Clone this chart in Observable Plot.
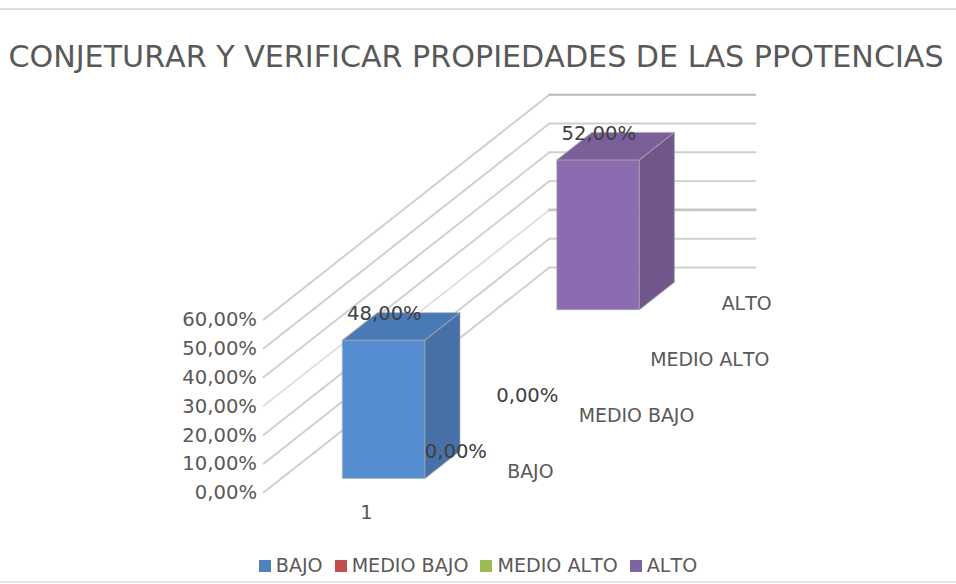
<!DOCTYPE html>
<html lang="es">
<head>
<meta charset="utf-8">
<script src="https://cdn.jsdelivr.net/npm/d3@7"></script>
<script src="https://cdn.jsdelivr.net/npm/@observablehq/plot@0.6"></script>
<style>
  html, body { margin: 0; padding: 0; background: #fff; }
  body { width: 956px; height: 584px; overflow: hidden; font-family: "DejaVu Sans", sans-serif; color: #595959; position: relative; font-kerning: none; }
  #chart svg text { font-kerning: none; }
  #title { position: absolute; top: 8px; left: 0; width: 956px; height: 80px; box-sizing: border-box; border-top: 2px solid #dedede; text-align: center; font-size: 30.15px; line-height: 32px; padding-top: 31px; padding-right: 4px; white-space: nowrap; }
  #chart { position: absolute; top: 90px; left: 0; }
  #chart svg { display: block; }
  #legend { position: absolute; top: 552px; left: 0; width: 956px; height: 31px; box-sizing: border-box; border-bottom: 2px solid #e4e4e4; display: flex; justify-content: center; align-items: flex-start; font-size: 19.1px; line-height: 28px; white-space: nowrap; }
  #legend span.item { display: inline-flex; align-items: center; margin: 0 6px; }
  #legend i { display: inline-block; width: 12px; height: 12px; margin-right: 5px; }
</style>
</head>
<body>
<div id="title"></div>
<div id="chart"></div>
<div id="legend"></div>
<script>
const chartTitle = "CONJETURAR Y VERIFICAR PROPIEDADES DE LAS PPOTENCIAS";
const seriesNames = ["BAJO", "MEDIO BAJO", "MEDIO ALTO", "ALTO"];
const seriesValues = [48, 0, 0, 52];
const categoryLabel = "1";
const gridLevels = [0, 10, 20, 30, 40, 50, 60];
const legendColors = ["#4F81BD", "#C0504D", "#9BBB59", "#8064A2"];
const frontColors = ["#558DD0", "#D05A56", "#A8CB62", "#8C6CB0"];
const topColors = ["#4A7AB6", "#B34F4B", "#91B055", "#7A5F9A"];
const sideColors = ["#4670A6", "#A34844", "#85A04E", "#6F578C"];

// Oblique projection: one series step back moves this much in category and value units.
const depthX = 0.347, depthY = 19.53;
const proj = (w, z, v) => ({ x: w + z * depthX, y: v + z * depthY });
const barLeft = 0.296, barRight = 0.697, barDepth = 0.49, barInset = 0.25;
const wallSplit = 1.5; // the floor depth where the side wall passes behind the first bar

const fmt = v => v.toFixed(2).replace(".", ",") + "%";

const gridRows = gridLevels.flatMap(v => [
  { level: v, part: "near", ...proj(0, 0, v) },
  { level: v, part: "near", ...proj(0, wallSplit, v) },
  { level: v, part: "far", ...proj(0, wallSplit, v) },
  { level: v, part: "far", ...proj(0, seriesNames.length, v) },
  { level: v, part: "back", ...proj(0, seriesNames.length, v) },
  { level: v, part: "back", ...proj(1, seriesNames.length, v) }
]);

const faces = seriesValues.flatMap((v, i) => {
  if (v <= 0) return [];
  const z0 = i + barInset, z1 = z0 + barDepth;
  const shape = (name, color, pts) => [...pts, pts[0]].map(p => ({ id: i + name, color, ...p }));
  return [
    shape("front", frontColors[i], [proj(barLeft, z0, 0), proj(barRight, z0, 0), proj(barRight, z0, v), proj(barLeft, z0, v)]),
    shape("top", topColors[i], [proj(barLeft, z0, v), proj(barRight, z0, v), proj(barRight, z1, v), proj(barLeft, z1, v)]),
    shape("side", sideColors[i], [proj(barRight, z0, 0), proj(barRight, z1, 0), proj(barRight, z1, v), proj(barRight, z0, v)])
  ].flat();
});

const valueRows = seriesValues.map((v, i) => ({ v, ...proj(0.5, i + barInset, v) }));
const seriesRows = seriesNames.map((name, i) => ({ name, ...proj(1, i + 0.5, 0) }));
const tickRows = gridLevels.map(v => ({ label: fmt(v), ...proj(0, 0, v) }));

const W = 956, H = 450;
// One category is 206px wide, one percent point 2.88px tall; the origin sits at (263, 402).
const xScale = { domain: [-263 / 206, (W - 263) / 206], range: [0, W] };
const yScale = { domain: [(402 - H) / 2.88, 402 / 2.88], range: [H, 0] };

const isLight = d => (d.level === 30 && d.part === "near") || (d.level === 20 && d.part === "far");
const gridStroke = d => isLight(d) ? "#e0e0e0"
  : d.part === "back" && d.level === 20 ? "#c6c6c6"
  : d.part === "back" && d.level === 60 ? "#b8b8b8"
  : "#cfcfcf";
const gridWidth = d => d.part === "back" && d.level === 20 ? 2.6 : 1.9;

const plot = Plot.plot({
  width: W, height: H,
  marginTop: 0, marginRight: 0, marginBottom: 0, marginLeft: 0,
  x: { ...xScale, axis: null },
  y: { ...yScale, axis: null },
  color: { type: "identity" },
  style: { fontFamily: "'DejaVu Sans', sans-serif", background: "transparent", overflow: "visible" },
  marks: [
    Plot.line(gridRows, { x: "x", y: "y", z: d => d.level + d.part, stroke: gridStroke, strokeWidth: gridWidth }),
    Plot.line(faces, { x: "x", y: "y", z: "id", fill: "color", stroke: "#a9a9a9", strokeOpacity: 0.55, strokeWidth: 1.2, curve: "linear" }),
    Plot.text(tickRows, { x: "x", y: "y", text: "label", textAnchor: "end", dx: -6.5, dy: 0.5, fill: "#595959", fontSize: 19.6 }),
    Plot.text(valueRows.filter(d => d.v > 0), { x: "x", y: "y", text: d => fmt(d.v), dy: -26, fill: "#404040", fontSize: 19.6 }),
    Plot.text(valueRows.filter(d => d.v === 0), { x: "x", y: "y", text: d => fmt(d.v), dy: 30, fill: "#404040", fontSize: 19.6 }),
    Plot.text(seriesRows, { x: "x", y: "y", text: "name", textAnchor: "start", dx: 2, dy: 8, fill: "#595959", fontSize: 18.9 }),
    Plot.text([proj(0.5, 0, 0)], { x: "x", y: "y", text: () => categoryLabel, dy: 20, fill: "#595959", fontSize: 19.6 })
  ]
});

document.getElementById("title").textContent = chartTitle;
document.getElementById("chart").appendChild(plot);
const legend = document.getElementById("legend");
seriesNames.forEach((name, i) => {
  const item = document.createElement("span");
  item.className = "item";
  const sw = document.createElement("i");
  sw.style.background = legendColors[i];
  item.appendChild(sw);
  item.appendChild(document.createTextNode(name));
  legend.appendChild(item);
});
</script>
</body>
</html>
